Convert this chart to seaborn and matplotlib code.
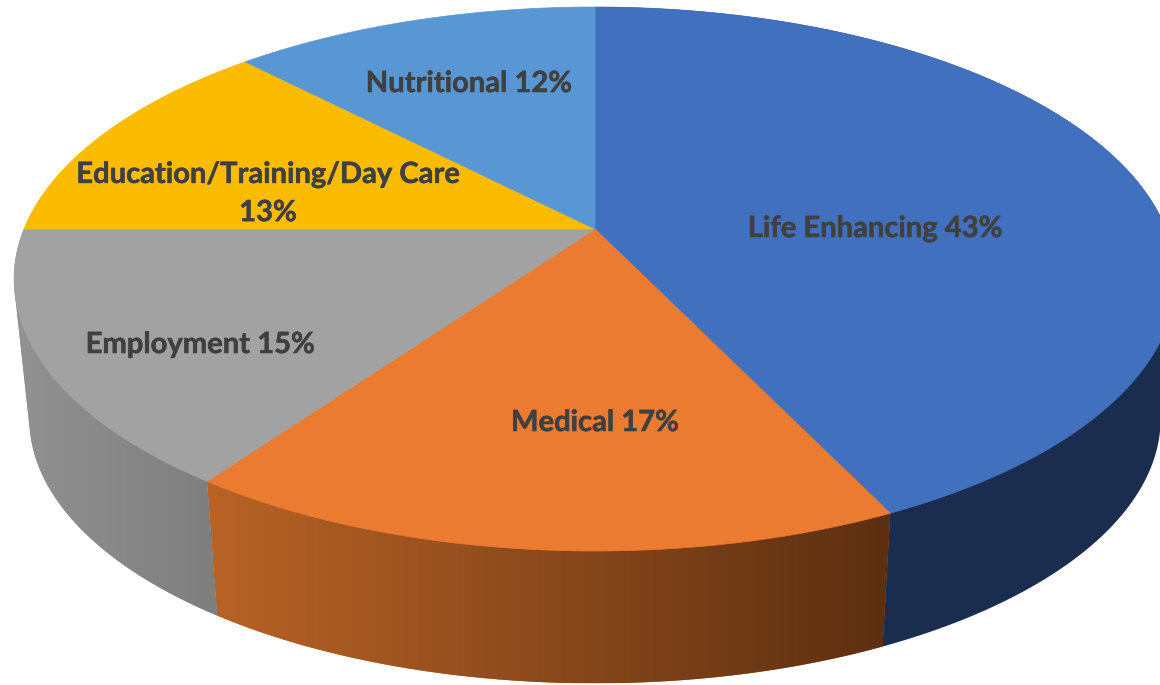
import numpy as np
import matplotlib
matplotlib.use("Agg")
import matplotlib.pyplot as plt
import matplotlib.patheffects as pe
from matplotlib.colors import LinearSegmentedColormap
from matplotlib.patches import Polygon
import seaborn as sns

# Share of each category, clockwise from 12 o'clock (labels are rounded in the chart)
categories = ['Life Enhancing', 'Medical', 'Employment', 'Education/Training/Day Care', 'Nutritional']
shares = [42.9, 16.9, 15.2, 12.8, 12.2]

top_colors = ['#4170BF', '#EA7B30', '#A2A2A2', '#FBBC00', '#5897D3']
side_left = ['#1A2D4F', '#B96326', '#929292']
side_right = ['#1A2D4F', '#5C2F11', '#7E7E7E']

label_text = ['Life Enhancing 43%', 'Medical 17%', 'Employment 15%',
              'Education/Training/Day Care\n13%', 'Nutritional 12%']
label_xy = [(875, 229), (595, 423), (200, 345), (268, 194), (469, 84)]

sns.set_theme(style='white')
plt.rcParams['font.family'] = ['Lato', 'DejaVu Sans']

# Perspective of the tilted disc, in pixels
K = 0.1838


def project(angle, cy, rx, ry):
    s, c = np.sin(angle), np.cos(angle)
    return 595 + rx * c / (1 + K * s), cy - ry * s / (1 + K * s)


def top_rim(angle):
    return project(angle, 229, 571, 262.8)


def bottom_rim(angle):
    return project(angle, 370, 556, 255.7)


def half_hull(pts):
    out = []
    for p in pts:
        while len(out) > 1:
            a, b = out[-2], out[-1]
            if (b[0] - a[0]) * (p[1] - a[1]) - (b[1] - a[1]) * (p[0] - a[0]) > 0:
                break
            out.pop()
        out.append(p)
    return out[:-1]


def convex_hull(x, y):
    pts = sorted(zip(x, y))
    return np.array(half_hull(pts) + half_hull(pts[::-1]))


fig, ax = plt.subplots(figsize=(11.6, 6.85), dpi=100)
fig.subplots_adjust(0, 0, 1, 1)
ax.axis('off')

edges = np.cumsum([0] + shares) / sum(shares)
palette = sns.color_palette(top_colors)

# Side wall with a left to right shade, only the three front slices show one
for i in range(len(side_left)):
    a0, a1 = np.pi / 2 - 2 * np.pi * edges[i], np.pi / 2 - 2 * np.pi * edges[i + 1]
    steps = np.linspace(a0, a1, 300)
    xt, yt = top_rim(steps)
    xb, yb = bottom_rim(steps)
    wall = Polygon(convex_hull(np.r_[xt, xb], np.r_[yt, yb]), closed=True,
                   fc=side_left[i], ec='none', transform=ax.transData, zorder=1 + i * 0.1)
    ax.add_patch(wall)
    if side_left[i] != side_right[i]:
        cmap = LinearSegmentedColormap.from_list('wall', [side_left[i], side_right[i]])
        x0, x1 = min(xt.min(), xb.min()), max(xt.max(), xb.max())
        im = ax.imshow(np.linspace(0, 1, 256)[None, :], cmap=cmap, aspect='auto',
                       extent=[x0, x1, yb.max(), yt.min()], zorder=1 + i * 0.1)
        im.set_clip_path(wall)

# Top face
for i in range(len(shares)):
    a0, a1 = np.pi / 2 - 2 * np.pi * edges[i], np.pi / 2 - 2 * np.pi * edges[i + 1]
    steps = np.linspace(a0, a1, 200)
    xt, yt = top_rim(steps)
    ax.fill(np.r_[595, xt], np.r_[229, yt], color=palette[i], lw=0.5, zorder=3)

for txt, (x, y) in zip(label_text, label_xy):
    ax.text(x, y, txt, ha='center', va='center', fontsize=21, fontweight='bold',
            color='#404040', zorder=4, linespacing=1.58,
            path_effects=[pe.withStroke(linewidth=0.4, foreground='#404040')])

ax.set_xlim(0, 1160)
ax.set_ylim(685, 0)

fig.savefig('out.png', dpi=100)
